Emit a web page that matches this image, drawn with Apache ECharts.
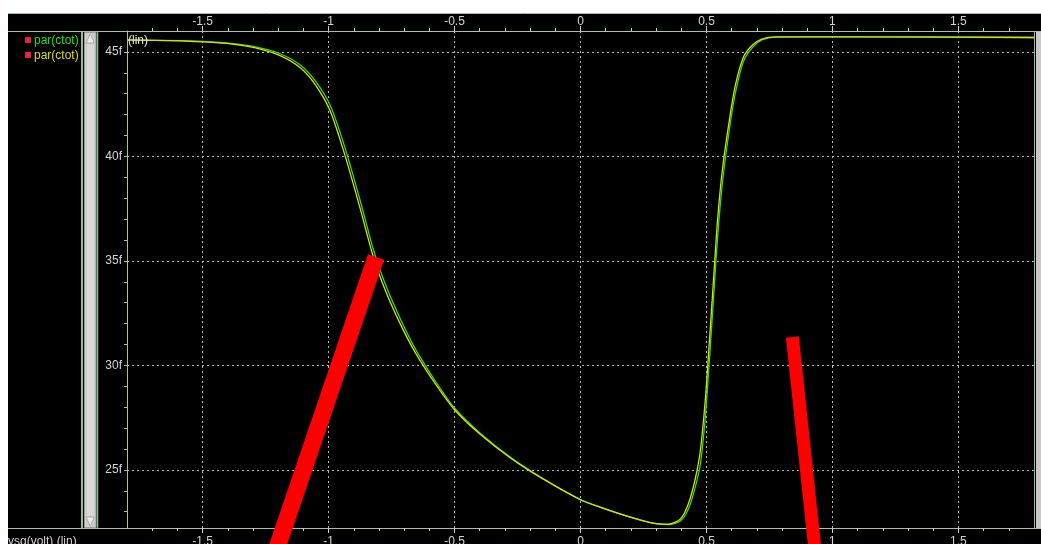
<!DOCTYPE html>
<html>
<head>
<meta charset="utf-8">
<script src="https://cdn.jsdelivr.net/npm/echarts@6/dist/echarts.min.js"></script>
<style>
html,body{margin:0;padding:0;background:#fff;}
#c{width:1041px;height:544px;}
</style>
</head>
<body>
<div id="c"></div>
<script>
// ---- data (vsg in volts, ctot in fF) ----
const vsg = [-1.8,-1.587,-1.5,-1.389,-1.29,-1.19,-1.111,-1.052,-0.992,-0.933,-0.873,-0.821,-0.77,-0.714,-0.655,-0.575,-0.5,-0.397,-0.278,-0.159,0,0.079,0.198,0.29,0.349,0.397,0.429,0.456,0.476,0.496,0.512,0.528,0.544,0.563,0.591,0.615,0.647,0.683,0.722,0.774,0.873,1.317,1.8];
const ctotGreen = [45.57,45.54,45.5,45.41,45.24,44.9,44.36,43.6,42.4,40.35,37.82,35.5,33.75,32.2,30.78,29.23,27.96,26.74,25.6,24.66,23.58,23.22,22.74,22.44,22.38,22.55,23.15,24.2,25.3,27.6,30.3,33.2,36.1,38.7,41.3,43.05,44.55,45.22,45.58,45.71,45.72,45.71,45.69];
const ctotYellow = [45.57,45.53,45.48,45.38,45.19,44.81,44.23,43.42,42.13,39.98,37.44,35.14,33.45,31.95,30.6,29.1,27.88,26.69,25.57,24.64,23.57,23.21,22.74,22.45,22.4,22.65,23.4,24.6,25.95,28.45,31.22,34.11,36.96,39.35,41.75,43.42,44.76,45.33,45.62,45.72,45.72,45.72,45.69];
// red annotation strokes: [vsg, ctot] endpoints
const redStroke1 = [[-1.221,20.69],[-0.8115,35.19]];
const redStroke2 = [[0.935,20.69],[0.841,31.36]];
// axes / ticks
const xRange = [-1.8, 1.8];
const yRange = [22.22, 46.0];
const xMajorTicks = [-1.5,-1,-0.5,0,0.5,1,1.5];
const xMinorTicks = [-1.7,-1.6,-1.5,-1.4,-1.3,-1.2,-1.1,-1,-0.9,-0.8,-0.7,-0.6,-0.5,-0.4,-0.3,-0.2,-0.1,0,0.1,0.2,0.3,0.4,0.5,0.6,0.7,0.8,0.9,1,1.1,1.2,1.3,1.4,1.5,1.6,1.7];
const yMajorTicks = [25,30,35,40,45];
const yMinorTicks = [23,24,25,26,27,28,29,30,31,32,33,34,35,36,37,38,39,40,41,42,43,44,45];
const legendNames = ['par(ctot)','par(ctot)'];
const xAxisTitle = 'vsg(volt) (lin)';
const yAxisNote = '(lin)';

const FONT = 'Liberation Sans';
const AXIS_GREEN = '#9cc89c';
const LABEL = '#d4d4d4';
const GREEN = '#22e022';
const YELLOW = '#dede00';

function toPairs(xs, ys){ return xs.map((x,i)=>[x, ys[i]]); }

function xAxisDef(pos, withLabels, ticks, len){
  return {
    type:'value', position:pos, min:xRange[0], max:xRange[1],
    axisLine:{show:withLabels, onZero:false, lineStyle:{color:AXIS_GREEN, width:1}},
    axisTick:{show:true, customValues:ticks, length:len, lineStyle:{color:'#d0d0d0'}},
    axisLabel:{show:withLabels, customValues:xMajorTicks, color:LABEL, fontSize:12, fontFamily:FONT, margin:pos==='top'?3:8, formatter:v=>String(v)},
    splitLine:{show:false}
  };
}

const chart = echarts.init(document.getElementById('c'), null, {renderer:'canvas'});
const gridMarks = [];
xMajorTicks.forEach(v=>gridMarks.push({xAxis:v}));
yMajorTicks.forEach(v=>gridMarks.push({yAxis:v}));

const option = {
  animation:false,
  backgroundColor:'#ffffff',
  grid:{left:127, right:7, top:31, bottom:16, containLabel:false, outerBoundsMode:'none'},
  xAxis:[
    xAxisDef('bottom', true, xMinorTicks, 3),
    xAxisDef('bottom', false, xMajorTicks, 5),
    xAxisDef('top', true, xMinorTicks, 3),
    xAxisDef('top', false, xMajorTicks, 5)
  ],
  yAxis:[{
    type:'value', position:'left', min:yRange[0], max:yRange[1],
    axisLine:{show:true, onZero:false, lineStyle:{color:AXIS_GREEN}},
    axisTick:{show:true, customValues:yMinorTicks, length:3, lineStyle:{color:AXIS_GREEN}},
    axisLabel:{customValues:yMajorTicks, color:LABEL, fontSize:12, fontFamily:FONT, margin:5, formatter:v=>v+'f'},
    splitLine:{show:false}
  }],
  series:[
    {
      name:'green', type:'line', xAxisIndex:0, data:toPairs(vsg, ctotGreen),
      showSymbol:false, symbol:'none', smooth:0.25, z:3,
      lineStyle:{color:GREEN, width:1.3},
      markLine:{silent:true, symbol:['none','none'], z:1, label:{show:false},
        lineStyle:{color:'#b4b4b4', type:[2,3], width:1}, data:gridMarks}
    },
    {
      name:'yellow', type:'line', xAxisIndex:0, data:toPairs(vsg, ctotYellow),
      showSymbol:false, symbol:'none', smooth:0.25, z:4,
      lineStyle:{color:YELLOW, width:1.3}
    },
    {
      name:'red1', type:'line', xAxisIndex:0, data:redStroke1, clip:false,
      showSymbol:false, symbol:'none', z:10, silent:true,
      lineStyle:{color:'#ff0000', width:17, cap:'butt'}
    },
    {
      name:'red2', type:'line', xAxisIndex:0, data:redStroke2, clip:false,
      showSymbol:false, symbol:'none', z:10, silent:true,
      lineStyle:{color:'#ff0000', width:13, cap:'butt'}
    }
  ],
  graphic:[
    {type:'rect', z:-100, silent:true, shape:{x:8,y:13,width:1033,height:531}, style:{fill:'#000000'}},
    {type:'line', z:-50, silent:true, shape:{x1:8,y1:13.5,x2:1041,y2:13.5}, style:{stroke:AXIS_GREEN, lineWidth:1}},
    {type:'line', z:-50, silent:true, shape:{x1:8,y1:31.5,x2:1041,y2:31.5}, style:{stroke:AXIS_GREEN, lineWidth:1}},
    {type:'line', z:-50, silent:true, shape:{x1:8,y1:528.5,x2:1041,y2:528.5}, style:{stroke:AXIS_GREEN, lineWidth:1}},
    // left scrollbar
    {type:'line', z:-50, silent:true, shape:{x1:82,y1:32,x2:82,y2:528}, style:{stroke:'#8fbf8f', lineWidth:2}},
    {type:'line', z:-50, silent:true, shape:{x1:97.5,y1:32,x2:97.5,y2:528}, style:{stroke:'#8fbf8f', lineWidth:1.5}},
    {type:'rect', z:-40, silent:true, shape:{x:84.5,y:32.5,width:11.5,height:495}, style:{fill:'#cdcdcd', stroke:'#9a9a9a', lineWidth:1}},
    {type:'rect', z:-39, silent:true, shape:{x:87,y:44,width:7,height:472}, style:{fill:'#d8d8d8'}},
    {type:'polygon', z:-38, silent:true, shape:{points:[[90.3,34],[86,43],[94.5,43]]}, style:{fill:'#ececec', stroke:'#a8a8a8', lineWidth:1}},
    {type:'polygon', z:-38, silent:true, shape:{points:[[90.3,526],[86,517],[94.5,517]]}, style:{fill:'#ececec', stroke:'#a8a8a8', lineWidth:1}},
    // right scrollbar
    {type:'line', z:-50, silent:true, shape:{x1:1034.5,y1:32,x2:1034.5,y2:528}, style:{stroke:'#8fbf8f', lineWidth:1}},
    {type:'rect', z:-40, silent:true, shape:{x:1036,y:32,width:5,height:496}, style:{fill:'#c8c8c8'}},
    // legend
    {type:'rect', z:20, silent:true, shape:{x:25,y:37,width:6,height:6}, style:{fill:'#ff1a1a'}},
    {type:'rect', z:21, silent:true, shape:{x:27,y:39,width:2,height:2}, style:{fill:'#5a5aff'}},
    {type:'text', z:20, silent:true, x:34, y:41, style:{text:legendNames[0], fill:GREEN, font:'12px "'+FONT+'"', verticalAlign:'middle'}},
    {type:'rect', z:20, silent:true, shape:{x:25,y:52,width:6,height:6}, style:{fill:'#ff1a1a'}},
    {type:'rect', z:21, silent:true, shape:{x:27,y:54,width:2,height:2}, style:{fill:'#5a5aff'}},
    {type:'text', z:20, silent:true, x:34, y:56, style:{text:legendNames[1], fill:YELLOW, font:'12px "'+FONT+'"', verticalAlign:'middle'}},
    // annotations
    {type:'text', z:20, silent:true, x:128, y:41, style:{text:yAxisNote, fill:'#e4e4e4', font:'12px "'+FONT+'"', verticalAlign:'middle'}},
    {type:'text', z:20, silent:true, x:8, y:542, style:{text:xAxisTitle, fill:LABEL, font:'12px "'+FONT+'"', verticalAlign:'middle'}}
  ]
};
chart.setOption(option);
</script>
</body>
</html>
